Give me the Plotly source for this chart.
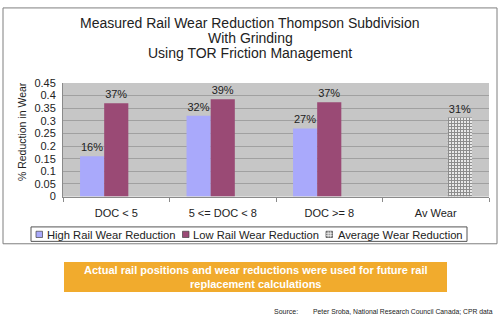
import plotly.graph_objects as go

categories = ["DOC < 5", "5 <= DOC < 8", "DOC >= 8", "Av Wear"]
high_rail = [0.16, 0.32, 0.27, None]
low_rail = [0.37, 0.386, 0.374, None]
average = [None, None, None, 0.313]
high_labels = ["16%", "32%", "27%", ""]
low_labels = ["37%", "39%", "37%", ""]
avg_labels = ["", "", "", "31%"]
series_names = ["High Rail Wear Reduction", "Low Rail Wear Reduction", "Average Wear Reduction"]
y_ticks = [0, 0.05, 0.1, 0.15, 0.2, 0.25, 0.3, 0.35, 0.4, 0.45]
y_tick_text = ["0", "0.05", "0.1", "0.15", "0.2", "0.25", "0.3", "0.35", "0.4", "0.45"]

W, H = 500, 321
def px(x):
    return x / W
def py(y):
    return 1 - y / H

FONT = "Liberation Sans, Arial, sans-serif"
TXT = "#222222"
C_HIGH = "#A9A9FB"
C_LOW = "#9A4A75"

fig = go.Figure()
fig.add_trace(go.Bar(x=categories, y=high_rail, name=series_names[0],
                     marker=dict(color=C_HIGH, line=dict(width=0)),
                     text=high_labels, textposition="outside", cliponaxis=False,
                     textfont=dict(size=11, color=TXT, family=FONT)))
fig.add_trace(go.Bar(x=categories, y=low_rail, name=series_names[1],
                     marker=dict(color=C_LOW, line=dict(width=0)),
                     text=low_labels, textposition="outside", cliponaxis=False,
                     textfont=dict(size=11, color=TXT, family=FONT)))
fig.add_trace(go.Bar(x=categories, y=average, name=series_names[2],
                     marker=dict(color="#ffffff", line=dict(width=0),
                                 pattern=dict(shape="+", size=3, solidity=0.6,
                                              fgcolor="#2a2a2a", bgcolor="#eeeeee",
                                              fillmode="overlay")),
                     text=avg_labels, textposition="outside", cliponaxis=False,
                     textfont=dict(size=11, color=TXT, family=FONT)))

fig.update_layout(
    width=W, height=H, margin=dict(l=0, r=0, t=0, b=0),
    paper_bgcolor="white", plot_bgcolor="#C6C6C6",
    barmode="group", bargap=0.32, bargroupgap=0,
    font=dict(family=FONT, size=11, color=TXT),
    showlegend=False,
    xaxis=dict(domain=[px(63), px(489)], showgrid=False,
               showline=True, linecolor="#8a8a8a", linewidth=1,
               ticks="outside", tickson="boundaries", ticklen=4, tickcolor="#8a8a8a",
               tickfont=dict(size=11, family=FONT, color=TXT), ticklabelstandoff=6,
               fixedrange=True),
    yaxis=dict(domain=[py(198), py(80)], range=[0, 0.45],
               tickvals=y_ticks, ticktext=y_tick_text,
               showgrid=True, gridcolor="#A0A0A0", gridwidth=1,
               showline=True, linecolor="#8a8a8a", zeroline=False,
               tickfont=dict(size=11, family=FONT, color=TXT), ticklabelstandoff=4),
)

shapes = [
    # outer chart frame
    dict(type="rect", xref="paper", yref="paper", x0=px(3), x1=px(497), y0=py(247), y1=py(2),
         line=dict(color="#7f7f7f", width=1), fillcolor="rgba(0,0,0,0)", layer="below"),
    # legend box
    dict(type="rect", xref="paper", yref="paper", x0=px(31), x1=px(467), y0=py(244.5), y1=py(229.5),
         line=dict(color="#555555", width=1), fillcolor="white", layer="above"),
    # orange note box
    dict(type="rect", xref="paper", yref="paper", x0=px(64), x1=px(447), y0=py(297), y1=py(266),
         line=dict(width=0), fillcolor="#F1AB2D", layer="above"),
]

# legend swatches and labels
leg_sq_x = [36, 182.5, 326]
leg_txt_x = [44.5, 191, 335.5]
leg_colors = [C_HIGH, C_LOW, "#9a9a9a"]
for sx, col in zip(leg_sq_x, leg_colors):
    shapes.append(dict(type="rect", xref="paper", yref="paper", x0=px(sx), x1=px(sx + 6.5),
                       y0=py(240.5), y1=py(234), line=dict(color="#444444", width=0.7),
                       fillcolor=col, layer="above"))
for k in range(1, 3):
    shapes.append(dict(type="line", xref="paper", yref="paper", x0=px(326 + k * 2.2), x1=px(326 + k * 2.2),
                       y0=py(240.5), y1=py(234), line=dict(color="#ffffff", width=0.6), layer="above"))
    shapes.append(dict(type="line", xref="paper", yref="paper", x0=px(326), x1=px(332.5),
                       y0=py(234 + k * 2.2), y1=py(234 + k * 2.2), line=dict(color="#ffffff", width=0.6), layer="above"))
fig.update_layout(shapes=shapes)

for tx, name in zip(leg_txt_x, series_names):
    fig.add_annotation(text=name, xref="paper", yref="paper", x=px(tx), y=py(237.5),
                       xanchor="left", yanchor="middle", showarrow=False,
                       font=dict(size=11.2, family=FONT, color=TXT))

title_lines = ["Measured Rail Wear Reduction Thompson Subdivision", "With Grinding",
               "Using TOR Friction Management"]
title_y = [18, 33, 49]
for t, yy in zip(title_lines, title_y):
    fig.add_annotation(text=t, xref="paper", yref="paper", x=px(250), y=py(yy),
                       xanchor="center", yanchor="middle", showarrow=False,
                       font=dict(size=14, family=FONT, color=TXT))

fig.add_annotation(text="% Reduction in Wear", textangle=-90, xref="paper", yref="paper",
                   x=px(22), y=py(131), xanchor="center", yanchor="middle", showarrow=False,
                   font=dict(size=10.5, family=FONT, color=TXT))

fig.add_annotation(text="<b>Actual rail positions and wear reductions were used for future rail<br>replacement calculations</b>",
                   xref="paper", yref="paper", x=px(255.5), y=py(281.5), xanchor="center", yanchor="middle",
                   showarrow=False, font=dict(size=11, family=FONT, color="white"))

fig.add_annotation(text="Source:", xref="paper", yref="paper", x=px(272), y=py(317),
                   xanchor="left", yanchor="middle", showarrow=False,
                   font=dict(size=7, family=FONT, color=TXT))
fig.add_annotation(text="Peter Sroba, National Research Council Canada; CPR data",
                   xref="paper", yref="paper", x=px(495), y=py(317), xanchor="right", yanchor="middle",
                   showarrow=False, font=dict(size=6.8, family=FONT, color=TXT))

fig.write_html("out.html")
